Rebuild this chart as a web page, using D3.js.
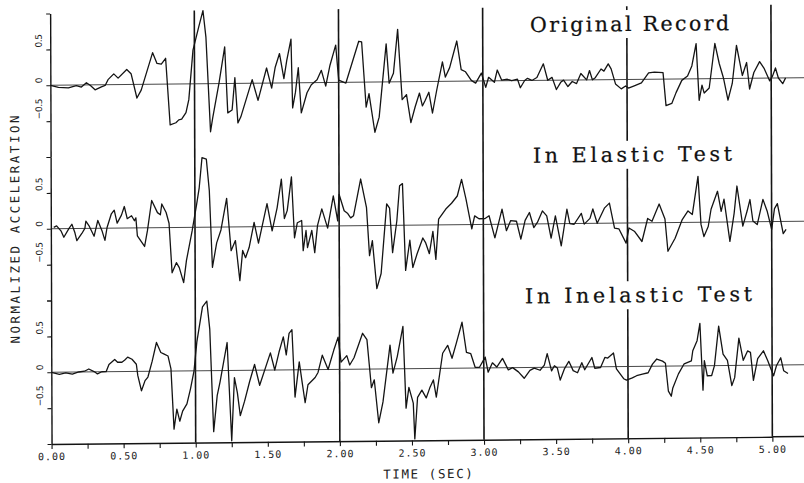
<!DOCTYPE html>
<html>
<head>
<meta charset="utf-8">
<script src="https://cdn.jsdelivr.net/npm/d3@7/dist/d3.min.js"></script>
<style>
  html, body { margin: 0; padding: 0; background: #fff; }
  svg { display: block; }
</style>
</head>
<body>
<svg id="chart" width="804" height="483"></svg>
<script>
// Normalized ground acceleration vs. time for the three records.

const originalTime = [0, 0.056, 0.125, 0.18, 0.215, 0.25, 0.278, 0.31, 0.354, 0.38, 0.40, 0.44, 0.47, 0.53, 0.56, 0.60, 0.63, 0.71, 0.74, 0.77, 0.80, 0.83, 0.87, 0.89, 0.91, 0.94, 0.96, 0.99, 1.03, 1.06, 1.08, 1.11, 1.125, 1.17, 1.21, 1.23, 1.26, 1.28, 1.30, 1.32, 1.40, 1.44, 1.50, 1.535, 1.56, 1.59, 1.62, 1.64, 1.67, 1.68, 1.70, 1.72, 1.74, 1.78, 1.81, 1.85, 1.88, 1.91, 1.94, 1.98, 2.00, 2.05, 2.14, 2.16, 2.19, 2.21, 2.25, 2.28, 2.33, 2.35, 2.38, 2.41, 2.44, 2.47, 2.50, 2.53, 2.56, 2.58, 2.60, 2.625, 2.65, 2.68, 2.72, 2.74, 2.77, 2.82, 2.85, 2.88, 2.92, 2.95, 2.97, 2.99, 3.02, 3.04, 3.08, 3.10, 3.13, 3.17, 3.20, 3.24, 3.26, 3.29, 3.31, 3.34, 3.375, 3.42, 3.45, 3.48, 3.51, 3.54, 3.56, 3.59, 3.62, 3.65, 3.68, 3.72, 3.74, 3.76, 3.78, 3.82, 3.84, 3.87, 3.89, 3.92, 3.96, 3.99, 4.01, 4.05, 4.10, 4.15, 4.19, 4.25, 4.27, 4.31, 4.34, 4.38, 4.42, 4.45, 4.48, 4.50, 4.52, 4.535, 4.57, 4.61, 4.64, 4.67, 4.70, 4.73, 4.76, 4.80, 4.83, 4.85, 4.88, 4.92, 4.95, 4.99, 5.01, 5.03, 5.05, 5.08, 5.10];
const originalAccel = [0, -0.03, -0.04, -0.01, -0.03, 0.03, -0.01, -0.07, -0.03, -0.01, 0.07, 0.15, 0.09, 0.21, 0.15, -0.19, -0.08, 0.44, 0.29, 0.28, 0.36, -0.57, -0.54, -0.50, -0.49, -0.40, -0.22, 0.47, 0.79, 1.02, 0.65, -0.67, -0.48, 0.01, 0.51, -0.41, -0.37, 0.08, -0.55, -0.47, 0.05, -0.24, 0.21, -0.07, 0.22, 0.41, 0.06, 0.31, 0.61, -0.35, -0.13, 0.21, -0.42, -0.14, -0.03, 0.04, 0.17, -0.05, 0.24, 0.52, 0.03, -0.01, 0.57, 0.56, -0.35, -0.16, -0.70, -0.49, 0.53, -0.02, 0.12, 0.73, -0.25, -0.18, -0.57, -0.35, -0.16, -0.34, -0.26, -0.15, -0.44, -0.12, 0.27, 0.06, 0.19, 0.56, 0.16, 0.13, 0.01, -0.03, 0.04, 0.11, -0.09, 0.05, -0.02, 0.15, 0.01, 0.02, 0.0, 0.02, -0.10, 0.0, 0.03, 0.0, 0.04, 0.23, 0.0, 0.04, -0.13, -0.03, 0.0, -0.09, -0.02, -0.05, 0.09, 0.0, 0.13, 0.0, 0.03, 0.15, 0.12, 0.22, 0.15, -0.06, -0.13, -0.09, -0.12, -0.09, -0.05, 0.09, 0.10, 0.09, -0.37, -0.34, -0.19, -0.02, 0.04, 0.18, 0.49, -0.30, -0.09, -0.20, -0.13, 0.49, 0.21, 0.0, -0.30, -0.07, 0.46, 0.04, 0.22, -0.15, 0.08, 0.23, 0.14, -0.04, 0.03, 0.14, 0.0, -0.08, 0.0];

const elasticTime = [0.02, 0.04, 0.07, 0.09, 0.125, 0.146, 0.167, 0.18, 0.215, 0.236, 0.243, 0.264, 0.30, 0.326, 0.354, 0.375, 0.39, 0.42, 0.44, 0.46, 0.49, 0.51, 0.53, 0.56, 0.58, 0.59, 0.60, 0.65, 0.67, 0.70, 0.74, 0.76, 0.77, 0.80, 0.82, 0.84, 0.87, 0.89, 0.92, 0.94, 0.98, 1.01, 1.03, 1.05, 1.08, 1.10, 1.12, 1.15, 1.18, 1.22, 1.25, 1.28, 1.31, 1.33, 1.35, 1.375, 1.41, 1.44, 1.50, 1.535, 1.57, 1.60, 1.62, 1.64, 1.67, 1.69, 1.71, 1.74, 1.75, 1.77, 1.78, 1.81, 1.83, 1.85, 1.88, 1.92, 1.96, 1.99, 2.00, 2.035, 2.06, 2.08, 2.10, 2.15, 2.19, 2.21, 2.23, 2.26, 2.29, 2.33, 2.35, 2.37, 2.40, 2.42, 2.44, 2.46, 2.49, 2.51, 2.54, 2.58, 2.60, 2.625, 2.65, 2.67, 2.69, 2.74, 2.78, 2.82, 2.85, 2.88, 2.92, 2.94, 2.97, 3.01, 3.04, 3.08, 3.13, 3.16, 3.19, 3.23, 3.26, 3.29, 3.32, 3.35, 3.375, 3.41, 3.44, 3.47, 3.50, 3.54, 3.58, 3.60, 3.63, 3.68, 3.70, 3.74, 3.76, 3.79, 3.84, 3.875, 3.91, 3.94, 3.99, 4.01, 4.05, 4.10, 4.14, 4.17, 4.22, 4.26, 4.28, 4.33, 4.38, 4.42, 4.45, 4.49, 4.51, 4.53, 4.56, 4.58, 4.625, 4.65, 4.67, 4.71, 4.74, 4.76, 4.80, 4.83, 4.85, 4.87, 4.90, 4.94, 4.97, 5.00, 5.02, 5.04, 5.08, 5.10];
const elasticAccel = [0.02, 0.04, -0.03, -0.12, 0.0, 0.06, -0.06, -0.17, -0.07, 0.0, 0.10, 0.04, -0.11, 0.11, -0.03, -0.17, 0.01, 0.20, 0.25, 0.07, 0.18, 0.30, 0.13, 0.17, 0.10, 0.14, -0.11, -0.26, -0.04, 0.38, 0.21, 0.18, 0.33, 0.21, 0.06, -0.63, -0.49, -0.56, -0.77, -0.46, -0.05, 0.30, 0.55, 0.97, 0.95, 0.51, -0.56, -0.22, -0.04, 0.40, -0.33, -0.19, -0.75, -0.33, -0.43, -0.29, 0.06, -0.23, 0.32, -0.06, 0.26, 0.66, 0.11, 0.22, 0.69, -0.16, 0.05, 0.08, -0.34, -0.06, -0.30, -0.06, -0.37, 0.01, 0.24, -0.03, 0.42, 0.07, 0.44, 0.21, 0.17, 0.11, 0.14, 0.65, 0.25, -0.42, -0.21, -0.88, -0.67, 0.30, 0.24, -0.38, 0.06, 0.55, 0.58, -0.63, -0.21, -0.59, -0.40, -0.18, -0.25, -0.40, -0.09, -0.48, 0.08, 0.22, 0.30, 0.40, 0.63, 0.36, -0.06, 0.12, 0.08, 0.08, 0.12, -0.19, 0.21, -0.09, 0.05, 0.04, -0.21, 0.05, 0.16, -0.05, 0.02, 0.18, 0.11, -0.20, 0.11, -0.31, 0.20, 0.0, -0.01, 0.14, -0.01, 0.07, 0.20, 0.0, 0.21, 0.28, -0.07, -0.08, -0.28, -0.07, -0.12, -0.26, 0.06, 0.02, 0.26, 0.05, -0.40, -0.22, 0.04, 0.16, 0.11, 0.64, -0.03, -0.20, -0.06, 0.18, 0.43, 0.15, 0.32, -0.27, 0.12, 0.50, -0.06, 0.15, 0.31, 0.01, -0.04, 0.31, 0.14, -0.11, 0.18, 0.25, -0.17, -0.11];

const inelasticTime = [0, 0.056, 0.10, 0.146, 0.19, 0.23, 0.26, 0.30, 0.32, 0.35, 0.38, 0.40, 0.44, 0.46, 0.49, 0.51, 0.53, 0.56, 0.59, 0.60, 0.625, 0.65, 0.67, 0.70, 0.73, 0.76, 0.78, 0.81, 0.83, 0.85, 0.87, 0.89, 0.91, 0.94, 0.965, 0.99, 1.01, 1.05, 1.08, 1.10, 1.125, 1.15, 1.17, 1.22, 1.25, 1.27, 1.29, 1.31, 1.34, 1.375, 1.41, 1.445, 1.52, 1.55, 1.58, 1.61, 1.63, 1.65, 1.67, 1.69, 1.72, 1.74, 1.76, 1.78, 1.83, 1.85, 1.88, 1.92, 1.96, 1.99, 2.01, 2.05, 2.07, 2.10, 2.16, 2.19, 2.22, 2.24, 2.27, 2.30, 2.35, 2.37, 2.40, 2.44, 2.46, 2.48, 2.51, 2.52, 2.54, 2.57, 2.60, 2.625, 2.65, 2.67, 2.715, 2.75, 2.78, 2.81, 2.85, 2.88, 2.91, 2.94, 2.97, 3.01, 3.03, 3.06, 3.09, 3.13, 3.17, 3.20, 3.24, 3.28, 3.32, 3.35, 3.39, 3.42, 3.44, 3.47, 3.49, 3.51, 3.53, 3.56, 3.59, 3.62, 3.65, 3.68, 3.70, 3.75, 3.77, 3.81, 3.84, 3.86, 3.90, 3.92, 3.97, 3.99, 4.03, 4.06, 4.10, 4.14, 4.17, 4.20, 4.24, 4.26, 4.28, 4.30, 4.31, 4.35, 4.39, 4.44, 4.45, 4.48, 4.50, 4.52, 4.53, 4.55, 4.58, 4.60, 4.63, 4.66, 4.69, 4.72, 4.74, 4.77, 4.80, 4.83, 4.85, 4.87, 4.90, 4.94, 4.97, 5.01, 5.03, 5.06, 5.08, 5.11];
const inelasticAccel = [0.0, -0.03, -0.01, -0.03, 0.0, 0.01, 0.04, 0.0, -0.03, 0.0, 0.0, 0.10, 0.17, 0.13, 0.13, 0.16, 0.20, 0.17, 0.10, -0.06, -0.27, -0.13, -0.08, 0.14, 0.40, 0.26, 0.24, 0.21, 0.03, -0.81, -0.53, -0.70, -0.56, -0.46, -0.25, 0.0, 0.40, 0.89, 0.97, 0.58, -0.85, -0.35, -0.16, 0.39, -0.98, -0.10, -0.31, -0.63, -0.43, -0.16, 0.08, -0.21, 0.24, 0.0, 0.25, 0.46, 0.21, 0.51, 0.56, -0.38, 0.11, -0.18, -0.46, -0.21, -0.11, -0.04, 0.20, 0.0, 0.27, 0.45, 0.10, 0.19, 0.06, 0.16, 0.50, 0.41, -0.26, -0.15, -0.75, -0.46, 0.33, -0.06, 0.17, 0.59, -0.55, -0.26, -0.48, -0.98, -0.40, -0.30, -0.41, -0.27, -0.16, -0.40, 0.21, 0.32, 0.14, 0.35, 0.64, 0.22, 0.20, 0.01, 0.01, 0.15, -0.06, 0.07, 0.01, 0.13, -0.03, 0.0, -0.06, -0.15, -0.04, -0.01, -0.04, 0.03, 0.19, -0.05, 0.02, -0.01, -0.18, -0.02, 0.08, -0.05, -0.08, 0.06, -0.04, 0.13, -0.02, -0.01, 0.13, 0.12, 0.19, -0.03, -0.17, -0.19, -0.16, -0.13, -0.11, -0.09, 0.03, 0.10, 0.07, 0.04, -0.35, -0.42, -0.31, -0.11, 0.03, 0.07, 0.21, 0.35, 0.59, -0.34, 0.07, -0.14, -0.14, 0.0, 0.55, 0.16, 0.07, -0.28, -0.17, 0.38, 0.07, 0.20, 0.18, -0.21, 0.09, 0.20, 0.06, -0.15, -0.01, 0.10, -0.08, -0.12];

const panelTitles = ["Original Record", "In Elastic Test", "In Inelastic Test"];
const xTickValues = [0, 0.25, 0.5, 0.75, 1, 1.25, 1.5, 1.75, 2, 2.25, 2.5, 2.75, 3, 3.25, 3.5, 3.75, 4, 4.25, 4.5, 4.75, 5];
const xLabelValues = [0, 0.5, 1, 1.5, 2, 2.5, 3, 3.5, 4, 4.5, 5];
const xTickLabels = ["0.00", "0.50", "1.00", "1.50", "2.00", "2.50", "3.00", "3.50", "4.00", "4.50", "5.00"];
const yTickValues = [-1, -0.5, 0, 0.5, 1];
const yLabelValues = [0.5, 0, -0.5];
const yTickLabels = ["0.5", "0", "\u22120.5"];
const gridTimes = [1, 2, 3, 4, 5];

const records = [
  { time: originalTime, accel: originalAccel },
  { time: elasticTime, accel: elasticAccel },
  { time: inelasticTime, accel: inelasticAccel }
];

const svg = d3.select("#chart");
// the plotted sheet sits very slightly askew
const g = svg.append("g").attr("transform", "matrix(1,-0.010,0.0033,1,-0.8,4.02)");

const x = d3.scaleLinear().domain([0, 5]).range([50.9, 771.7]);
const panelH = 143.5;
const top0 = 10;
const bottom = top0 + 3 * panelH;
const yScales = [0, 1, 2].map(i =>
  d3.scaleLinear().domain([-1, 1]).range([top0 + (i + 1) * panelH, top0 + i * panelH]));

const ink = "#141414";

// vertical lines at whole seconds
g.append("g").selectAll("line").data(gridTimes).join("line")
  .attr("x1", d => x(d)).attr("x2", d => x(d))
  .attr("y1", 8.5).attr("y2", bottom)
  .attr("stroke", ink).attr("stroke-width", 1.6);

// zero reference line of each record
g.append("g").selectAll("line").data(yScales).join("line")
  .attr("x1", x(0)).attr("x2", 815)
  .attr("y1", d => d(0)).attr("y2", d => d(0))
  .attr("stroke", "#333").attr("stroke-width", 0.9);

// record titles (typewriter style), each on a white patch that interrupts the grid lines
const titlePos = [[530.7, 33.3], [533.3, 164], [524.8, 304.5]];
const titleWidth = [199, 199, 227];
panelTitles.forEach((t, i) => {
  const tg = g.append("g");
  const bg = tg.append("rect").attr("fill", "#fff");
  const txt = tg.append("text")
    .attr("x", titlePos[i][0]).attr("y", titlePos[i][1])
    .attr("font-family", "'DejaVu Serif', serif")
    .attr("font-size", 20.5).attr("fill", "#111")
    .attr("stroke", "#111").attr("stroke-width", 0.25)
    .attr("textLength", titleWidth[i]).attr("lengthAdjust", "spacing")
    .text(t);
  const bb = txt.node().getBBox();
  bg.attr("x", bb.x - 4).attr("width", bb.width + 8)
    .attr("y", titlePos[i][1] - 21).attr("height", 28);
});

// acceleration traces
const line = (ys) => d3.line().x(d => x(d[0])).y(d => ys(d[1]));
records.forEach((r, i) => {
  const pts = r.time.map((t, k) => [t, r.accel[k]]);
  g.append("path").datum(pts)
    .attr("d", line(yScales[i]))
    .attr("fill", "none").attr("stroke", ink)
    .attr("stroke-width", 1.3).attr("stroke-linejoin", "round");
});

// left axis, one segment per record
yScales.forEach(ys => {
  const ax = g.append("g").attr("transform", `translate(${x(0)},0)`)
    .call(d3.axisLeft(ys).tickValues(yTickValues).tickSize(4).tickSizeOuter(0).tickFormat(() => ""));
  ax.select(".domain").attr("stroke", ink).attr("stroke-width", 1.4);
  ax.selectAll(".tick line").attr("stroke", ink).attr("stroke-width", 1.1);
  yLabelValues.forEach((v, k) => {
    g.append("text")
      .attr("transform", `translate(42.5,${ys(v) - 2}) rotate(-90)`)
      .attr("text-anchor", "start")
      .attr("font-family", "'DejaVu Sans', sans-serif")
      .attr("font-size", 9).attr("letter-spacing", -0.4)
      .attr("fill", "#222")
      .text(yTickLabels[k]);
  });
});

// time axis
const xa = g.append("g").attr("transform", `translate(0,${bottom})`)
  .call(d3.axisBottom(x).tickValues(xTickValues).tickSize(5).tickSizeOuter(0).tickPadding(4)
    .tickFormat(d => {
      const k = xLabelValues.indexOf(d);
      return k >= 0 ? xTickLabels[k] : "";
    }));
xa.select(".domain").attr("stroke", ink).attr("stroke-width", 1.4);
xa.selectAll(".tick line").attr("stroke", ink).attr("stroke-width", 1.1);
xa.selectAll(".tick text")
  .attr("font-family", "'DejaVu Sans Mono', monospace")
  .attr("font-size", 10).attr("letter-spacing", 1)
  .attr("fill", "#222");
g.append("line")
  .attr("x1", x(5)).attr("x2", 815).attr("y1", bottom).attr("y2", bottom)
  .attr("stroke", ink).attr("stroke-width", 1.4);

// axis titles
g.append("text")
  .attr("x", 428).attr("y", 478.5)
  .attr("text-anchor", "middle")
  .attr("font-family", "'DejaVu Sans Mono', monospace")
  .attr("font-size", 12.5).attr("letter-spacing", 1.6)
  .attr("fill", "#222")
  .text("TIME (SEC)");

g.append("text")
  .attr("transform", "translate(19.5,224.5) rotate(-90)")
  .attr("text-anchor", "middle")
  .attr("font-family", "'DejaVu Sans Mono', monospace")
  .attr("font-size", 12.5).attr("letter-spacing", 2.5)
  .attr("fill", "#222")
  .text("NORMALIZED ACCELERATION");
</script>
</body>
</html>
